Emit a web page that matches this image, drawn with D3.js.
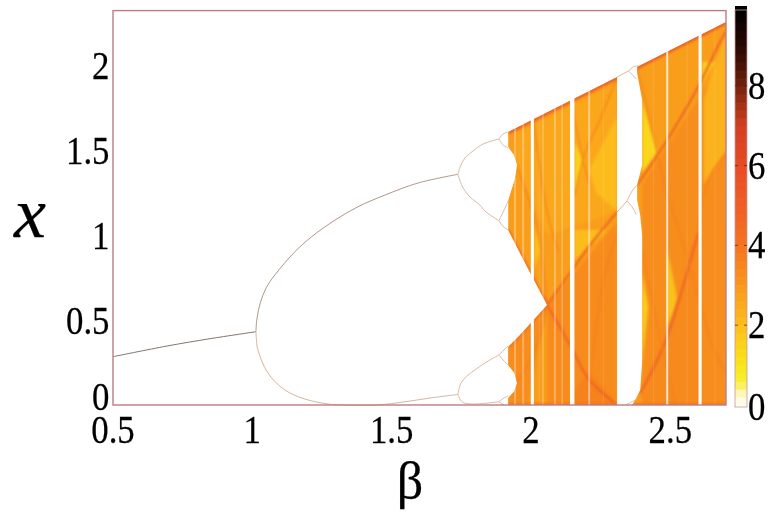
<!DOCTYPE html>
<html>
<head>
<meta charset="utf-8">
<script src="https://cdnjs.cloudflare.com/ajax/libs/d3/7.8.5/d3.min.js"></script>
<style>
	html, body { margin: 0; padding: 0; background: #fff; }
	text { font-family: "Liberation Serif", serif; fill: #000; stroke: #000; stroke-width: 0.25px; }
</style>
</head>
<body>
<div id="chart"></div>
<script>
// axis ticks
var betaTicks = [0.5, 1, 1.5, 2, 2.5];
var xTicks = [0, 0.5, 1, 1.5, 2];
var densityTicks = [0, 2, 4, 6, 8];

// density colour map
var densityStops = [0, 0.3, 0.6, 1, 1.5, 2, 3, 4, 5, 6, 7, 7.5, 8, 8.5, 9, 9.9];
var densityColors = ["#ffffff", "#fdf6b8", "#f8ee30", "#f8e61c", "#fbd21a", "#fcbd1a", "#f9981b", "#f3741f",
	"#ef5f27", "#e64c25", "#d23f22", "#a43317", "#722510", "#4a1508", "#2a0805", "#000000"];

// stable orbits, [beta, x]
var period1 = [[0.5, 0.284], [0.694, 0.347], [0.848, 0.39], [1.013, 0.431]];
var period2Upper = [[1.013, 0.431], [1.016, 0.5], [1.028, 0.598], [1.05, 0.69], [1.081, 0.765], [1.153, 0.902], [1.213, 0.99], [1.297, 1.088],
	[1.379, 1.166], [1.476, 1.235], [1.595, 1.306], [1.738, 1.357]];
var period2Lower = [[1.013, 0.431], [1.015, 0.38], [1.02, 0.324], [1.056, 0.188], [1.117, 0.088], [1.189, 0.035], [1.272, 0.006],
	[1.322, 0], [1.448, 0], [1.548, 0.019], [1.645, 0.043], [1.738, 0.062]];
var period4 = [
	[[1.738, 1.357], [1.746, 1.4], [1.763, 1.453], [1.792, 1.494], [1.828, 1.535], [1.885, 1.565]],
	[[1.738, 1.357], [1.753, 1.288], [1.781, 1.224], [1.817, 1.176], [1.835, 1.141], [1.885, 1.084]],
	[[1.738, 0.062], [1.746, 0.118], [1.763, 0.159], [1.835, 0.247], [1.885, 0.294]],
	[[1.738, 0.062], [1.753, 0.018], [1.789, 0.006], [1.885, 0.019]]
];
var period8 = [
	[[1.885, 1.565], [1.9, 1.594], [1.918, 1.606]],
	[[1.885, 1.565], [1.9, 1.529], [1.918, 1.512]],
	[[1.885, 1.084], [1.9, 1.135], [1.918, 1.2]],
	[[1.885, 1.084], [1.9, 1.05], [1.918, 1.03]],
	[[1.885, 0.294], [1.903, 0.324], [1.918, 0.347]],
	[[1.885, 0.294], [1.9, 0.265], [1.918, 0.235]],
	[[1.885, 0.019], [1.903, 0.041], [1.918, 0.053]],
	[[1.885, 0.019], [1.903, 0]]
];
var windowOrbits = [
	[[2.309, 1.929], [2.35, 1.965]],
	[[2.35, 1.965], [2.368, 1.99], [2.385, 1.995]],
	[[2.35, 1.965], [2.368, 1.935], [2.38, 1.915]],
	[[2.309, 1.135], [2.345, 1.2]],
	[[2.345, 1.2], [2.363, 1.259], [2.381, 1.294]],
	[[2.345, 1.2], [2.363, 1.165], [2.378, 1.12]],
	[[2.34, 0], [2.363, 0.02], [2.381, 0.035]]
];

// outline of the chaotic band
var chaosOutline = [[1.918, 1.606], [2.7, 2.253], [2.7, 0], [1.918, 0], [1.918, 0.041], [1.94, 0.08], [1.95, 0.129],
	[1.94, 0.19], [1.918, 0.235], [1.918, 0.341], [1.96, 0.41], [2.058, 0.588], [1.99, 0.8], [1.918, 1.029],
	[1.918, 1.206], [1.94, 1.32], [1.95, 1.412], [1.938, 1.47], [1.918, 1.518]];
var topRim = [[1.918, 1.606], [2.7, 2.253]];
var bottomRim = [[1.918, 0], [2.7, 0]];
var wedgeRim = [[1.918, 1.029], [1.99, 0.8], [2.058, 0.588], [1.96, 0.41], [1.918, 0.341]];

// areas of different density: value, then outline
var patchValues = [3.35, 3.3, 3.3, 2.6, 1.4, 1.6, 1.5, 2.0, 1.6, 1.9, 2.0, 1.9, 2.3, 3.6, 3.4];
var patchOutlines = [
	[[2.058, 0.588], [2.309, 1.08], [2.309, 0], [2.058, 0]],
	[[2.399, 1.3], [2.7, 2.05], [2.7, 0], [2.399, 0]],
	[[1.918, 0.34], [2.058, 0.588], [1.99, 0], [1.918, 0]],
	[[1.95, 1.412], [2.058, 1.0], [2.309, 1.14], [2.309, 1.9], [1.95, 1.6]],
	[[2.399, 1.794], [2.453, 1.488], [2.399, 1.365]],
	[[2.399, 0.779], [2.42, 0.576], [2.399, 0.247]],
	[[2.158, 1.541], [2.187, 1.441], [2.158, 1.247]],
	[[2.209, 1.382], [2.309, 1.694], [2.309, 1.14], [2.237, 1.247]],
	[[2.614, 2.018], [2.661, 2.018], [2.614, 1.894]],
	[[2.489, 0.912], [2.524, 0.629], [2.489, 0.4]],
	[[2.155, 1.029], [2.273, 1.029], [2.155, 0.85]],
	[[2.011, 1.059], [2.033, 0.912], [2.011, 0.794]],
	[[2.62, 1.8], [2.7, 2.2], [2.7, 1.5], [2.62, 1.3]],
	[[2.14, 0.05], [2.209, 0.2], [2.309, 0], [2.16, 0]],
	[[2.392, 0.07], [2.542, 0.68], [2.6, 1.0], [2.607, 0], [2.4, 0]]
];

// sharp density folds inside the band
var strongFolds = [
	[[2.058, 0.588], [2.148, 0.794], [2.212, 0.941], [2.309, 1.135]],
	[[2.381, 1.294], [2.489, 1.559], [2.607, 1.894], [2.668, 2.1], [2.7, 2.2]],
	[[2.058, 0.588], [2.14, 0.353], [2.201, 0.165], [2.266, 0.059], [2.309, 0]],
	[[2.392, 0.071], [2.445, 0.235], [2.489, 0.4], [2.542, 0.676], [2.6, 1.012]]
];
var faintFolds = [
	[[2.6, 1.012], [2.614, 1.206], [2.7, 1.47]],
	[[2.158, 1.235], [2.187, 1.441], [2.248, 1.676], [2.309, 1.929]],
	[[2.381, 1.982], [2.41, 1.794], [2.453, 1.488], [2.489, 1.235], [2.535, 1.012], [2.607, 0.6], [2.65, 0.35], [2.7, 0.2]],
	[[1.95, 1.412], [1.979, 1.265], [2.004, 1.147], [2.033, 0.971], [2.058, 0.588]],
	[[1.95, 0.129], [2.004, 0.282], [2.04, 0.45], [2.058, 0.588]],
	[[2.212, 0.165], [2.248, 0.62], [2.309, 1.0]],
	[[2.148, 1.75], [2.187, 1.441], [2.209, 1.3]],
	[[2.004, 1.75], [2.05, 1.2], [2.1, 0.9]],
	[[2.4, 0.9], [2.45, 0.5], [2.489, 0.2], [2.52, 0]]
];

// periodic windows: beta, full width in beta, how white
var windowBeta = [1.943, 1.972, 2.005, 2.043, 2.086, 2.112, 2.148, 2.209, 2.489, 2.607, 2.03, 2.26, 2.44, 2.56, 2.66];
var windowWidth = [0.007, 0.007, 0.011, 0.006, 0.007, 0.006, 0.016, 0.007, 0.007, 0.011, 0.004, 0.004, 0.004, 0.004, 0.004];
var windowWhite = [0.3, 0.3, 1, 0.25, 0.3, 0.25, 1, 0.45, 0.8, 1, 0.1, 0.1, 0.1, 0.1, 0.1];

// the big period three window
var mainWindow = [[2.309, 2.3], [2.381, 2.3], [2.381, 1.953], [2.399, 1.794], [2.399, 1.412], [2.381, 1.294],
	[2.381, 1.206], [2.392, 1.118], [2.399, 1], [2.399, 0.247], [2.392, 0.088], [2.374, 0.029], [2.363, 0], [2.309, 0]];

drawchart();

function drawchart() {
	var margin = { top: 10.6, right: 726, bottom: 405, left: 113 };

	var svg = d3.select("#chart")
		.append("svg")
		.attr("width", 768)
		.attr("height", 513);

	var xScale = d3.scaleLinear().domain([0.5, 2.7]).range([margin.left, margin.right]);
	var yScale = d3.scaleLinear().domain([0, 2.32]).range([margin.bottom, margin.top]);
	var densityColor = d3.scaleLinear().domain(densityStops).range(densityColors);
	var densityScale = d3.scaleLinear().domain([0, 9.9]).range([margin.bottom, 10]);

	var area = d3.line().x(d => xScale(d[0])).y(d => yScale(d[1]));
	var smooth = d3.line().x(d => xScale(d[0])).y(d => yScale(d[1])).curve(d3.curveMonotoneX);
	var orbit = d3.line().x(d => xScale(d[0])).y(d => yScale(d[1])).curve(d3.curveCatmullRom);

	var defs = svg.append("defs");
	defs.append("clipPath").attr("id", "chaosclip")
		.append("path").attr("d", area(chaosOutline) + "Z");
	[["crisp", 0.4], ["soft", 0.8], ["wide", 1.8]].forEach(function (f) {
		defs.append("filter").attr("id", f[0])
			.attr("filterUnits", "userSpaceOnUse")
			.attr("x", 0).attr("y", 0).attr("width", 768).attr("height", 513)
			.append("feGaussianBlur").attr("stdDeviation", f[1]);
	});

	// chaotic band
	var chaos = svg.append("g").attr("clip-path", "url(#chaosclip)");
	chaos.append("path")
		.attr("d", area(chaosOutline) + "Z")
		.attr("fill", densityColor(2.85));
	var patches = chaos.append("g").attr("filter", "url(#wide)");
	patches.selectAll("path")
		.data(patchOutlines)
		.enter()
		.append("path")
		.attr("d", d => area(d) + "Z")
		.attr("fill", (d, i) => densityColor(patchValues[i]));
	var folds = chaos.append("g").attr("filter", "url(#soft)").attr("fill", "none");
	folds.selectAll(".strong")
		.data(strongFolds)
		.enter()
		.append("path")
		.attr("class", "strong")
		.attr("d", smooth)
		.attr("stroke", densityColor(4.9))
		.attr("stroke-width", 2);
	folds.selectAll(".faint")
		.data(faintFolds)
		.enter()
		.append("path")
		.attr("class", "faint")
		.attr("d", smooth)
		.attr("stroke", densityColor(3.7))
		.attr("stroke-width", 1.2);
	// band rims are denser
	folds.append("path").attr("d", area(topRim))
		.attr("stroke", densityColor(4.7)).attr("stroke-width", 5);
	folds.append("path").attr("d", area(bottomRim))
		.attr("stroke", densityColor(4)).attr("stroke-width", 4);
	folds.append("path").attr("d", area(wedgeRim))
		.attr("stroke", densityColor(4.2)).attr("stroke-width", 3);

	// windows
	var stripes = svg.append("g").attr("filter", "url(#crisp)");
	stripes.selectAll("rect")
		.data(windowBeta)
		.enter()
		.append("rect")
		.attr("x", (d, i) => xScale(d - windowWidth[i] / 2))
		.attr("width", (d, i) => xScale(d + windowWidth[i] / 2) - xScale(d - windowWidth[i] / 2))
		.attr("y", yScale(2.28))
		.attr("height", yScale(0) - yScale(2.28))
		.attr("fill", "#fff")
		.attr("opacity", (d, i) => windowWhite[i]);
	svg.append("path")
		.attr("d", area(mainWindow) + "Z")
		.attr("fill", "#fff");

	// periodic orbits
	svg.append("path").attr("d", orbit(period1))
		.attr("fill", "none").attr("stroke", "#75655c").attr("stroke-width", 0.9);
	svg.append("path").attr("d", orbit(period2Upper))
		.attr("fill", "none").attr("stroke", "#a98a78").attr("stroke-width", 0.9);
	svg.append("path").attr("d", orbit(period2Lower))
		.attr("fill", "none").attr("stroke", "#d0ab8e").attr("stroke-width", 0.9);
	svg.append("g").selectAll("path")
		.data(period4.concat(period8, windowOrbits))
		.enter()
		.append("path")
		.attr("d", orbit)
		.attr("fill", "none")
		.attr("stroke", "#d9b094")
		.attr("stroke-width", 0.9);

	// frame
	svg.append("rect")
		.attr("x", margin.left)
		.attr("y", margin.top)
		.attr("width", margin.right - margin.left)
		.attr("height", margin.bottom - margin.top)
		.attr("fill", "none")
		.attr("stroke", "#bd7d80")
		.attr("stroke-width", 1.4);

	// tick labels are stretched upward in the original
	svg.append("g").selectAll("text")
		.data(betaTicks)
		.enter()
		.append("text")
		.attr("transform", d => `translate(${xScale(d)},443) scale(0.87,1)`)
		.attr("text-anchor", "middle")
		.style("font-size", "40px")
		.text(d => d);
	svg.append("g").selectAll("text")
		.data(xTicks)
		.enter()
		.append("text")
		.attr("transform", d => `translate(109.5,${d == 0 ? 410 : yScale(d) + 14}) scale(0.87,1)`)
		.attr("text-anchor", "end")
		.style("font-size", "40px")
		.text(d => d);

	svg.append("text")
		.attr("x", 14)
		.attr("y", 237)
		.style("font-size", "72px")
		.style("font-style", "italic")
		.text("x");
	svg.append("text")
		.attr("x", 410)
		.attr("y", 498)
		.attr("text-anchor", "middle")
		.style("font-size", "52px")
		.text("β");

	// colour bar
	var barValues = d3.range(0, 9.9, 0.2);
	svg.append("g").selectAll("rect")
		.data(barValues)
		.enter()
		.append("rect")
		.attr("x", 735)
		.attr("width", 12)
		.attr("y", d => densityScale(d + 0.2))
		.attr("height", d => densityScale(d) - densityScale(d + 0.2) + 0.5)
		.attr("fill", d => densityColor(d + 0.1));
	svg.append("rect")
		.attr("x", 735).attr("y", 10).attr("width", 12).attr("height", 397)
		.attr("fill", "none").attr("stroke", "#c79a9c").attr("stroke-width", 0.8);
	svg.append("g").selectAll("line")
		.data(densityTicks.slice(1))
		.enter()
		.append("line")
		.attr("x1", 735).attr("x2", 747)
		.attr("y1", d => densityScale(d)).attr("y2", d => densityScale(d))
		.attr("stroke", "#3a2a20").attr("stroke-width", 0.7).attr("stroke-dasharray", "3,6");
	svg.append("g").selectAll("text")
		.data(densityTicks)
		.enter()
		.append("text")
		.attr("transform", d => `translate(748,${d == 0 ? 420 : densityScale(d) + 13}) scale(0.87,1)`)
		.style("font-size", "40px")
		.text(d => d);
}
</script>
</body>
</html>
